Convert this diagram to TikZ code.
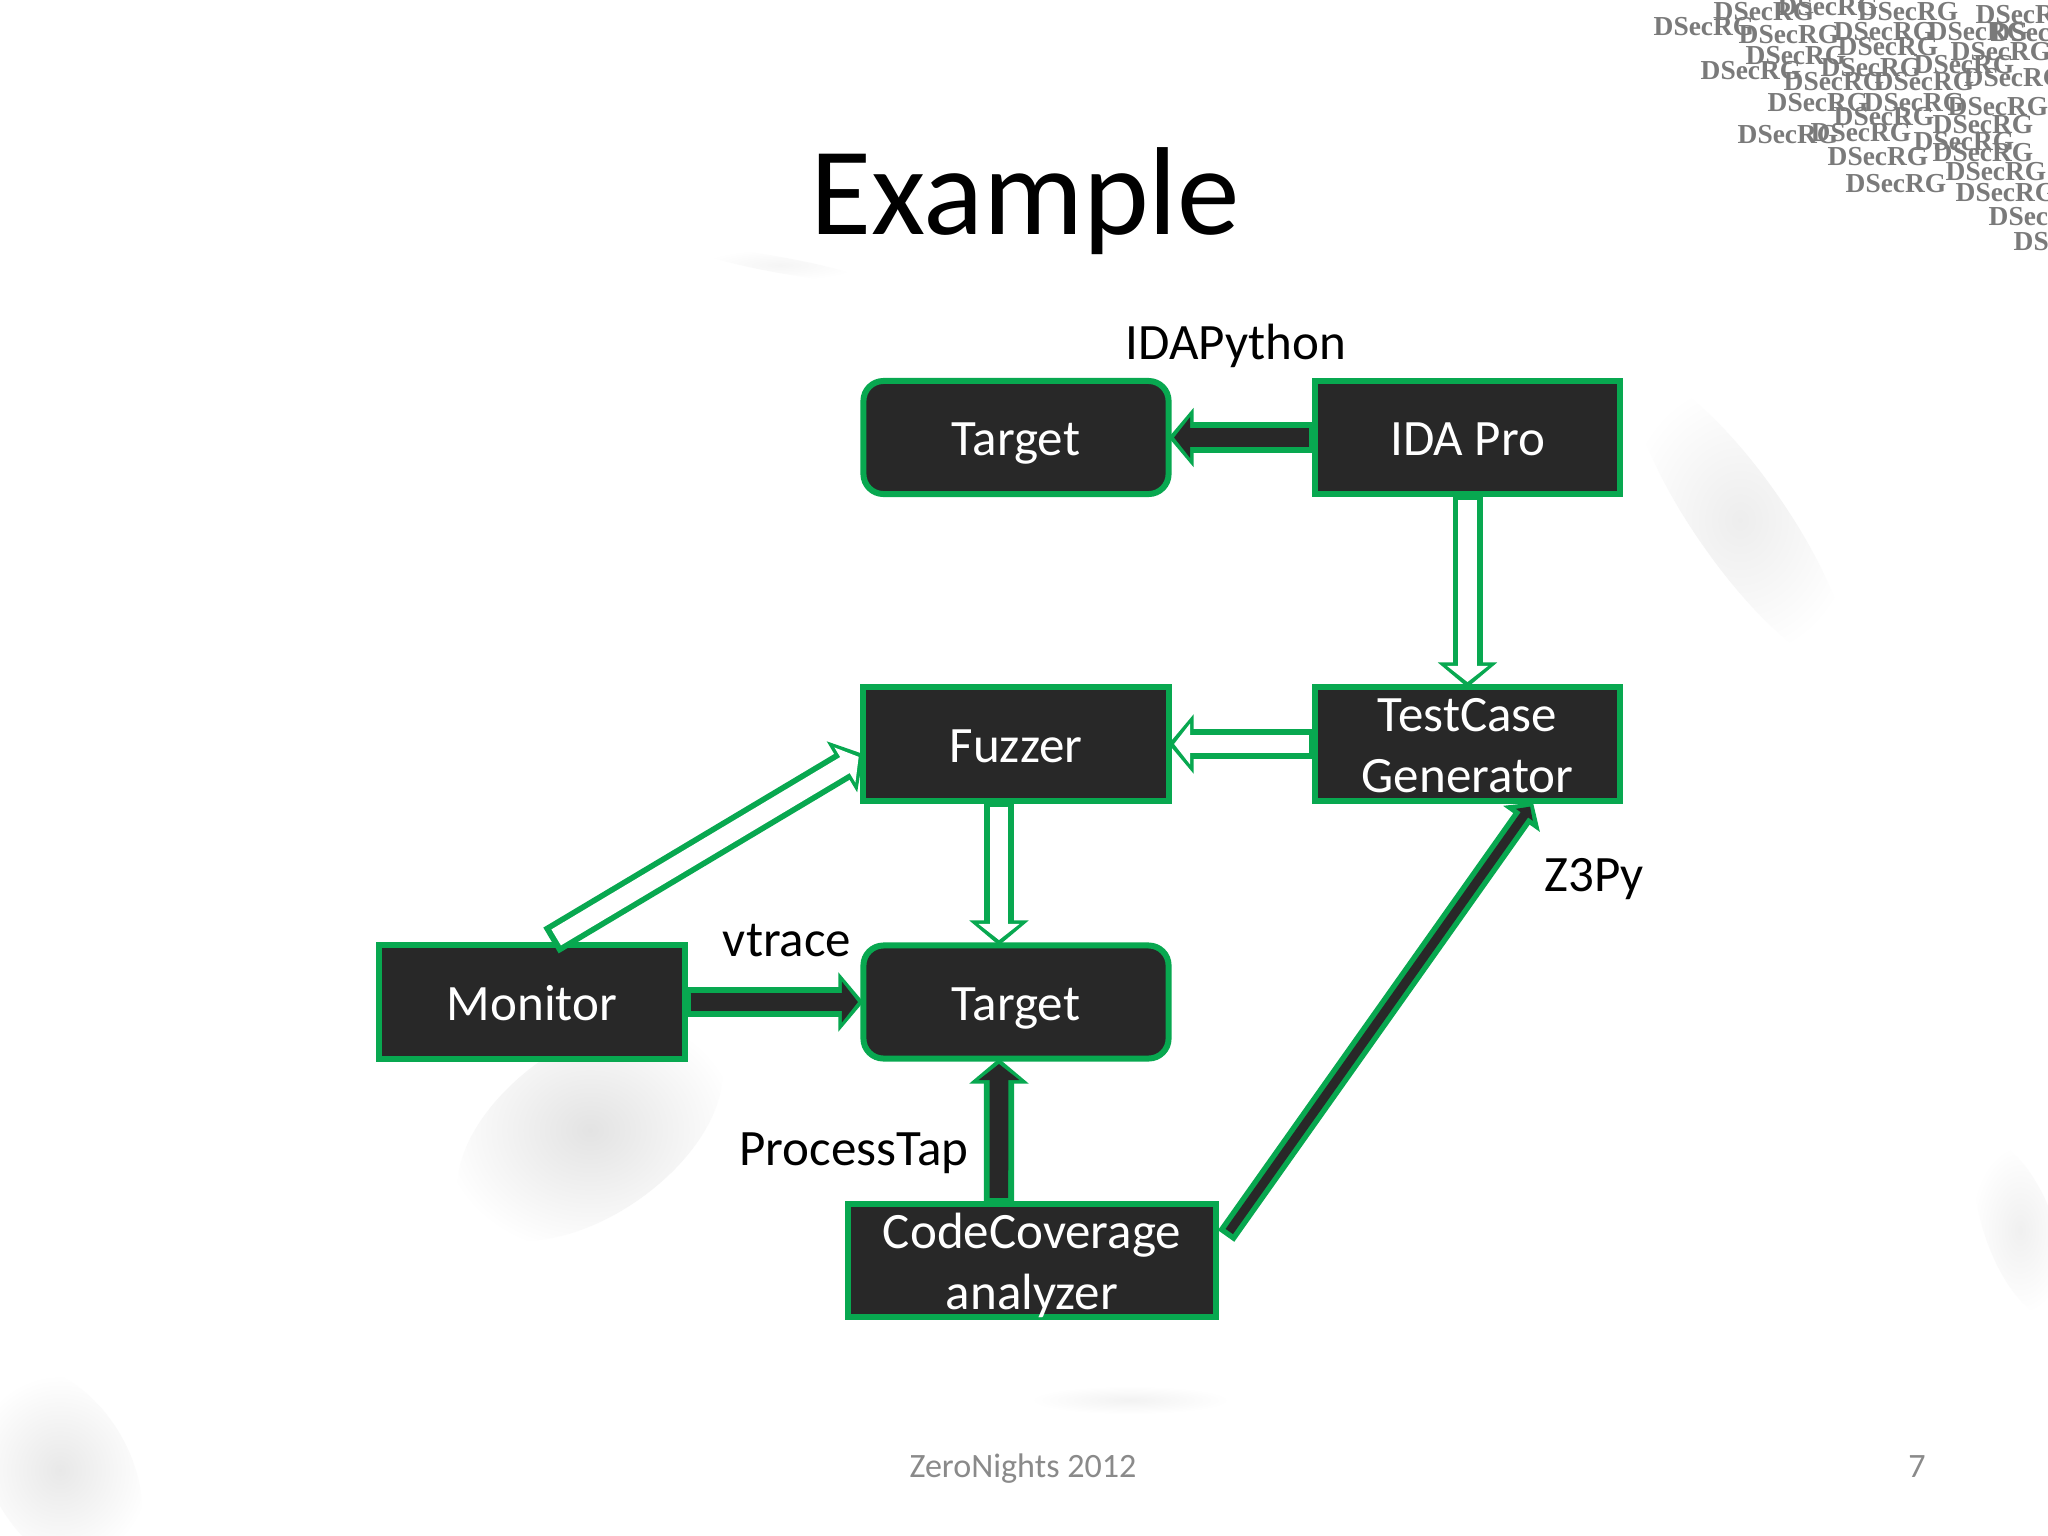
\documentclass[tikz,border=0pt]{standalone}
\usepackage{fontspec}
\setmainfont{Carlito}
\newfontfamily\markfont{Liberation Serif}
\usetikzlibrary{arrows.meta,positioning}

\definecolor{boxgreen}{HTML}{08A850}
\definecolor{boxdark}{HTML}{282828}
\definecolor{footgray}{HTML}{8A8A8A}
\definecolor{markgray}{HTML}{7A7A7A}

\tikzset{
  box/.style={draw=boxgreen,fill=boxdark,line width=0.06cm,text=white,font=\fontsize{14.5}{17.4}\selectfont,
    align=center,inner sep=0pt,outer sep=0pt,minimum width=3.05cm,minimum height=1.13cm,text height=13pt,text depth=2.6pt},
  roundbox/.style={box,rounded corners=0.2cm},
  twolines/.style={box,text height=29.9pt,text depth=2.2pt},
  label/.style={font=\fontsize{14.5}{17.4}\selectfont,inner sep=0pt},
  flow/.style={draw=boxgreen,line width=0.30cm,-{Triangle[length=0.25cm,width=0.58cm]},
    postaction={draw=#1,line width=0.185cm,shorten >=0.055cm,shorten <=0.06cm,-{Triangle[length=0.16cm,width=0.40cm]}}},
  thinflow/.style={draw=boxgreen,line width=0.20cm,-{Triangle[length=0.20cm,width=0.44cm]},
    postaction={draw=#1,line width=0.09cm,shorten >=0.05cm,shorten <=0.055cm,-{Triangle[length=0.10cm,width=0.20cm]}}},
  smudge/.style={inner color=black!#1,outer color=white,draw=none},
}

\begin{document}
\begin{tikzpicture}[x=0.01cm,y=-0.01cm]
\useasboundingbox (0,0) rectangle (2048,1536);
\clip (0,0) rectangle (2048,1536);
% Background
\fill[white] (0,0) rectangle (2048,1536);
\shade[smudge=11,rotate around={35:(590,1130)}] (590,1130) ellipse (150 and 85);
\shade[smudge=7,rotate around={-55:(1740,520)}] (1740,520) ellipse (170 and 45);
\shade[smudge=9,rotate around={-60:(60,1470)}] (60,1470) ellipse (110 and 70);
\shade[smudge=6,rotate around={-70:(2020,1230)}] (2020,1230) ellipse (90 and 35);
\shade[smudge=5] (1130,1400) ellipse (100 and 14);
\shade[smudge=4,rotate around={-10:(780,265)}] (780,265) ellipse (80 and 8);
% Watermark
\foreach \mx/\my [count=\i] in {1713/12,1777/7,1857/12,1975/15,1653/27,1738/35,1833/32,1927/32,1990/33,
  1837/47,1950/52,1745/56,1700/71,1820/68,1913/65,1783/82,1873/82,1963/78,1767/103,1863/103,1947/107,
  1833/117,1932/125,1737/135,1810/133,1913/142,1827/157,1932/153,1945/172,1845/184,1955/193,1988/217,2013/242}
  \node[anchor=west,inner sep=0pt,text=markgray,font=\markfont\bfseries\fontsize{7.8}{8}\selectfont] (mark\i) at (\mx,\my) {DSecRG};
% Title and footer
\node[inner sep=0pt,font=\fontsize{35.6}{40}\selectfont] (title) at (1025,201) {Example};
\node[inner sep=0pt,text=footgray,font=\fontsize{9.7}{12}\selectfont] (footer) at (1023,1469) {ZeroNights 2012};
\node[inner sep=0pt,text=footgray,font=\fontsize{9.7}{12}\selectfont] (pagenum) at (1917,1467) {7};
% Boxes
\node[roundbox] (targetup) at (1016,437.5) {Target};
\node[box] (idapro) at (1467.5,437.5) {IDA Pro};
\node[box] (fuzzer) at (1016,744) {Fuzzer};
\node[twolines] (testcase) at (1467.5,744) {TestCase\\Generator};
\node[box] (monitor) at (532,1002) {Monitor};
\node[roundbox] (targetdown) at (1016,1002) {Target};
\node[twolines,minimum width=3.68cm] (coverage) at (1032,1260.5) {CodeCoverage\\analyzer};
% Labels
\node[label] (idapython) at (1236,346) {IDAPython};
\node[label] (zthreepy) at (1594,879) {Z3Py};
\node[label] (vtrace) at (787,941) {vtrace};
\node[label] (processtap) at (854,1153) {ProcessTap};
% Arrows
\draw[flow=boxdark] (idapro.west) -- (targetup.east);
\draw[flow=white] (idapro.south) -- (testcase.north);
\draw[flow=white] (testcase.west) -- (fuzzer.east);
\draw[flow=white] ([xshift=-0.17cm]fuzzer.south) -- ([xshift=-0.17cm]targetdown.north);
\draw[flow=white] ([xshift=0.19cm,yshift=0.05cm]monitor.north) -- ([yshift=-0.1cm]fuzzer.west);
\draw[flow=boxdark] (monitor.east) -- (targetdown.west);
\draw[flow=boxdark] ([xshift=-0.33cm]coverage.north) -- ([xshift=-0.17cm]targetdown.south);
\draw[thinflow=boxdark] ([xshift=0.10cm,yshift=0.245cm]coverage.east) -- ([xshift=0.655cm,yshift=-0.02cm]testcase.south);
\end{tikzpicture}
\end{document}
